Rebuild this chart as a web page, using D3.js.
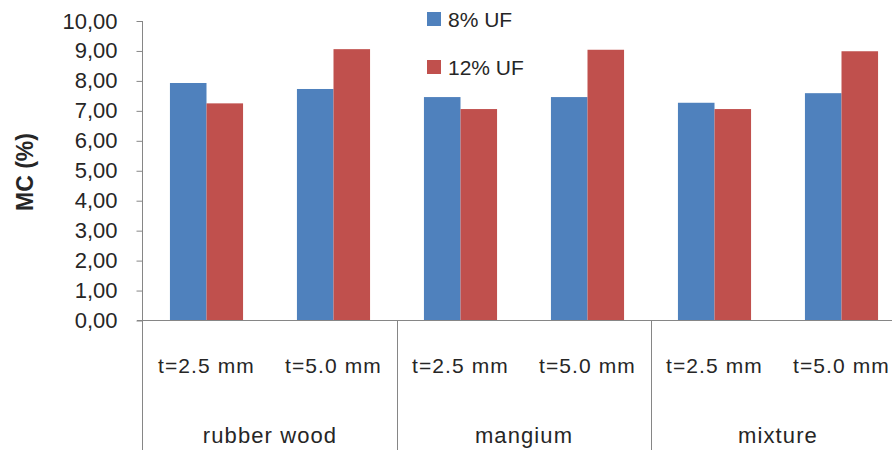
<!DOCTYPE html>
<html>
<head>
<meta charset="utf-8">
<script src="https://cdn.jsdelivr.net/npm/d3@7"></script>
<style>
  html, body { margin: 0; padding: 0; background: #fff; }
  svg { display: block; }
  text { font-family: "Liberation Sans", Arial, sans-serif; fill: #262626; }
</style>
</head>
<body>
<svg id="chart" width="892" height="450"></svg>
<script>
// Moisture content by panel thickness, wood type and UF resin level
const woodTypes = ["rubber wood", "mangium", "mixture"];
const thicknesses = ["t=2.5 mm", "t=5.0 mm"];
const seriesNames = ["8% UF", "12% UF"];
const seriesColors = ["#4F81BD", "#C0504D"];
// values ordered rubber wood (2.5, 5.0), mangium (2.5, 5.0), mixture (2.5, 5.0)
const uf8 = [7.93, 7.73, 7.46, 7.46, 7.27, 7.59];
const uf12 = [7.25, 9.06, 7.06, 9.04, 7.06, 8.99];
const yTicks = [0, 1, 2, 3, 4, 5, 6, 7, 8, 9, 10];

const svg = d3.select("#chart");
const W = 892, H = 450;
const plotL = 143, plotR = 905, plotT = 21, plotB = 320.5;
const axisColor = "#868686";

// one slot per (wood type, thickness) pair
const slots = [];
woodTypes.forEach((w, i) => thicknesses.forEach((t, j) => {
  const k = i * thicknesses.length + j;
  slots.push({ id: w + "|" + t, wood: w, thick: t, values: [uf8[k], uf12[k]] });
}));

const x0 = d3.scaleBand().domain(slots.map(d => d.id)).range([plotL, plotR]).padding(0);
const x1 = d3.scaleBand().domain(seriesNames).range([0, x0.bandwidth()])
  .paddingInner(0).paddingOuter(0.737);
const y = d3.scaleLinear().domain([0, 10]).range([plotB, plotT]);

// y axis with left ticks and comma decimal labels
const fmt = v => d3.format(".2f")(v).replace(".", ",");
const yAxis = d3.axisLeft(y).tickValues(yTicks).tickSize(6).tickPadding(19).tickFormat(fmt);
const gy = svg.append("g").attr("transform", `translate(${plotL - 0.5},0)`).call(yAxis);
gy.select(".domain").remove();
gy.selectAll(".tick line").attr("stroke", axisColor);
gy.selectAll(".tick text").style("font-size", "22px").attr("fill", "#262626")
  .style("font-family", "'Liberation Sans', Arial, sans-serif");

// bars
const groups = svg.append("g").selectAll("g").data(slots).join("g")
  .attr("transform", d => `translate(${x0(d.id)},0)`);
groups.selectAll("rect").data(d => d.values.map((v, i) => ({ v, s: seriesNames[i], c: seriesColors[i] })))
  .join("rect")
  .attr("x", d => x1(d.s))
  .attr("width", x1.bandwidth())
  .attr("y", d => y(d.v))
  .attr("height", d => y(0) - y(d.v))
  .attr("fill", d => d.c);

// axis lines
svg.append("line").attr("x1", plotL - 0.5).attr("x2", plotL - 0.5).attr("y1", plotT).attr("y2", H)
  .attr("stroke", axisColor);
svg.append("line").attr("x1", plotL - 6).attr("x2", W).attr("y1", plotB).attr("y2", plotB)
  .attr("stroke", axisColor);

// separators between wood type groups, with group names
woodTypes.forEach((w, i) => {
  const firstId = w + "|" + thicknesses[0];
  const lastId = w + "|" + thicknesses[thicknesses.length - 1];
  const xr = Math.round(x0(lastId) + x0.bandwidth()) + 0.5;
  svg.append("line").attr("x1", xr).attr("x2", xr).attr("y1", plotB).attr("y2", H)
    .attr("stroke", axisColor);
  const cx = (x0(firstId) + x0(lastId) + x0.bandwidth()) / 2;
  svg.append("text").attr("x", cx).attr("y", 443).attr("text-anchor", "middle")
    .style("font-size", "22px").style("letter-spacing", "1.1px").text(w);
});

// thickness labels
svg.append("g").selectAll("text").data(slots).join("text")
  .attr("x", d => x0(d.id) + x0.bandwidth() / 2)
  .attr("y", 373)
  .attr("text-anchor", "middle")
  .style("font-size", "21px")
  .style("letter-spacing", "1.1px")
  .text(d => d.thick);

// y axis title
svg.append("text")
  .attr("transform", "translate(33,172) rotate(-90)")
  .attr("text-anchor", "middle")
  .style("font-size", "23px").style("font-weight", "bold")
  .text("MC (%)");

// legend
const legend = svg.append("g").selectAll("g").data(seriesNames).join("g")
  .attr("transform", (d, i) => `translate(427,${12 + i * 48})`);
legend.append("rect").attr("width", 14).attr("height", 14).attr("fill", (d, i) => seriesColors[i]);
legend.append("text").attr("x", 21).attr("y", 15).style("font-size", "21px").text(d => d);
</script>
</body>
</html>
